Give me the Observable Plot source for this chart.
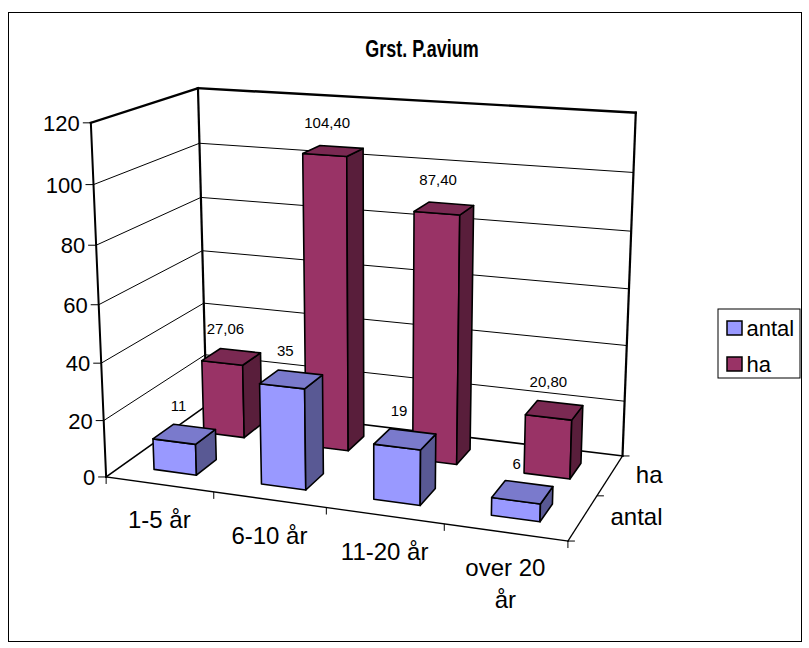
<!DOCTYPE html>
<html>
<head>
<meta charset="utf-8">
<script src="https://cdn.jsdelivr.net/npm/d3@7"></script>
<script src="https://cdn.jsdelivr.net/npm/@observablehq/plot@0.6"></script>
<style>
  html, body { margin: 0; padding: 0; background: #fff; }
  #chart svg { display: block; }
</style>
</head>
<body>
<div id="chart"></div>
<script>
// ---- data -------------------------------------------------------------
const categories = ["1-5 år", "6-10 år", "11-20 år", "over 20 år"];
const seriesNames = ["antal", "ha"];
const antal = [11, 35, 19, 6];
const ha = [27.06, 104.40, 87.40, 20.80];
const valueTicks = [0, 20, 40, 60, 80, 100, 120];
const chartTitle = "Grst. P.avium";

// ---- styling ----------------------------------------------------------
const palette = {antal: "#9999ff", ha: "#993366"};
const shade = {front: 1, top: 0.8, side: 0.58};
const font = "'Liberation Sans', Arial, Helvetica, sans-serif";

// ---- scales: data -> unit cube (u along categories, h up, w into depth) ----
const uScale = Plot.scale({x: {type: "band", domain: categories, range: [0, 1], padding: 0}});
const wScale = Plot.scale({fy: {type: "band", domain: seriesNames, range: [0, 1], padding: 0}});
const hScale = Plot.scale({y: {type: "linear", domain: [0, 120], range: [0, 1]}});
const barShare = 0.4;   // bar width / category band (gap width 150%)
const depthShare = 0.4; // bar depth / series band (gap depth 150%)

// ---- perspective: the unit cube's screen placement ---------------------
// [u, h, w, screenX, screenY] for the corners of the plot box and the
// ticks along its edges; a pinhole camera is solved from them.
const boxPlacement = [
  [0, 0, 0, 105, 477], [0, 1, 0, 91, 122],
  [0, 0, 1, 207, 404], [0, 1, 1, 197, 87],
  [1, 0, 1, 622, 456], [1, 1, 1, 636, 112],
  [1, 0, 0, 567, 540],
  [0, 100 / 120, 0, 93.5, 184.3], [0, 80 / 120, 0, 95.8, 244.7],
  [0, 60 / 120, 0, 98.2, 304.3], [0, 40 / 120, 0, 100.5, 362.7],
  [0, 20 / 120, 0, 102.7, 420],
  [0, 100 / 120, 1, 198.5, 143.3], [0, 80 / 120, 1, 200.3, 197.7],
  [1, 100 / 120, 1, 632.7, 172], [1, 80 / 120, 1, 630, 230.7],
  [0.25, 0, 0, 213.3, 491.7], [0.5, 0, 0, 326, 506.7],
  [1, 0, 0.5, 597, 495.5]
];

function solveLinear(A, b) {
  const n = b.length;
  const M = A.map((row, i) => [...row, b[i]]);
  for (let c = 0; c < n; c++) {
    let p = c;
    for (let r = c + 1; r < n; r++) if (Math.abs(M[r][c]) > Math.abs(M[p][c])) p = r;
    [M[c], M[p]] = [M[p], M[c]];
    for (let r = 0; r < n; r++) {
      if (r === c) continue;
      const f = M[r][c] / M[c][c];
      for (let k = c; k <= n; k++) M[r][k] -= f * M[c][k];
    }
  }
  return M.map((row, i) => row[n] / row[i]);
}

function fitCamera(anchors) {
  const AtA = Array.from({length: 11}, () => new Array(11).fill(0));
  const Atb = new Array(11).fill(0);
  const add = (row, t) => {
    for (let i = 0; i < 11; i++) {
      Atb[i] += row[i] * t;
      for (let j = 0; j < 11; j++) AtA[i][j] += row[i] * row[j];
    }
  };
  for (const [X, Y, Z, x, y] of anchors) {
    add([X, Y, Z, 1, 0, 0, 0, 0, -x * X, -x * Y, -x * Z], x);
    add([0, 0, 0, 0, X, Y, Z, 1, -y * X, -y * Y, -y * Z], y);
  }
  const p = solveLinear(AtA, Atb);
  return [[p[0], p[1], p[2], p[3]], [p[4], p[5], p[6], p[7]], [p[8], p[9], p[10], 1]];
}

const P = fitCamera(boxPlacement);
const project = (u, h, w) => {
  const q = P.map(r => r[0] * u + r[1] * h + r[2] * w + r[3]);
  return [q[0] / q[2], q[1] / q[2]];
};
// camera position in cube coordinates (for hidden-face removal)
const [Cu, Ch, Cw] = solveLinear(P.map(r => r.slice(0, 3)), P.map(r => -r[3]));

// ---- bars -------------------------------------------------------------
const valuesOf = {antal, ha};
const bars = seriesNames.flatMap(s => categories.map((c, i) => {
  const bw = uScale.bandwidth, bd = wScale.bandwidth;
  const u0 = uScale.apply(c) + bw * (1 - barShare) / 2, u1 = u0 + bw * barShare;
  const w0 = wScale.apply(s) + bd * (1 - depthShare) / 2, w1 = w0 + bd * depthShare;
  return {series: s, category: c, value: valuesOf[s][i], u0, u1, w0, w1, h1: hScale.apply(valuesOf[s][i])};
}));
// paint far bars first
bars.sort((a, b) => (b.w0 - a.w0) || (Math.abs(b.u0 - Cu) - Math.abs(a.u0 - Cu)));

const tint = (color, k) => {
  const c = d3.rgb(color);
  return d3.rgb(c.r * k, c.g * k, c.b * k).formatHex();
};

const faces = [];
bars.forEach((b, bi) => {
  const {u0, u1, w0, w1, h1} = b;
  const list = [];
  if (Cw < w0) list.push(["front", [[u0, 0, w0], [u1, 0, w0], [u1, h1, w0], [u0, h1, w0]]]);
  if (Cw > w1) list.push(["front", [[u0, 0, w1], [u1, 0, w1], [u1, h1, w1], [u0, h1, w1]]]);
  if (Cu < u0) list.push(["side", [[u0, 0, w0], [u0, 0, w1], [u0, h1, w1], [u0, h1, w0]]]);
  if (Cu > u1) list.push(["side", [[u1, 0, w0], [u1, 0, w1], [u1, h1, w1], [u1, h1, w0]]]);
  if (Ch > h1) list.push(["top", [[u0, h1, w0], [u1, h1, w0], [u1, h1, w1], [u0, h1, w1]]]);
  list.forEach(([kind, pts], fi) => {
    const fill = tint(palette[b.series], shade[kind]);
    pts.forEach(([u, h, w]) => {
      const [x, y] = project(u, h, w);
      faces.push({id: `${bi}-${fi}`, x, y, fill});
    });
  });
});

// ---- walls, floor, grid -----------------------------------------------
const gridValues = valueTicks.filter(v => v > 0 && v < 120);
const seg = (a, b, width) => {
  const [x1, y1] = project(...a), [x2, y2] = project(...b);
  return {x1, y1, x2, y2, width};
};
const gridLines = gridValues.flatMap(v => {
  const h = hScale.apply(v);
  return [seg([0, h, 0], [0, h, 1], 1), seg([0, h, 1], [1, h, 1], 1)];
});
const frameLines = [
  seg([0, 0, 0], [0, 1, 0], 2), seg([0, 1, 0], [0, 1, 1], 2.4),
  seg([0, 1, 1], [0, 0, 1], 2.2), seg([0, 1, 1], [1, 1, 1], 2.4),
  seg([1, 1, 1], [1, 0, 1], 2.2),
  seg([0, 0, 1], [1, 0, 1], 1.6), seg([0, 0, 0], [0, 0, 1], 1.6),
  seg([0, 0, 0], [1, 0, 0], 1.3), seg([1, 0, 0], [1, 0, 1], 1.3)
];

// ---- axes -------------------------------------------------------------
const valueAxis = valueTicks.map(v => {
  const [x, y] = project(0, hScale.apply(v), 0);
  return {v, x, y};
});
const catEdges = d3.range(categories.length + 1).map(i => {
  const [x, y] = project(i * uScale.bandwidth, 0, 0);
  return {x, y};
});
const catLabels = categories.map(c => {
  const [x, y] = project(uScale.apply(c) + uScale.bandwidth / 2, 0, 0);
  return {c, x, y};
});
const depthEdges = d3.range(seriesNames.length + 1).map(i => {
  const [x, y] = project(1, 0, i * wScale.bandwidth);
  return {x, y};
});
const depthRight = project(1, 0, 1)[0] + 40;
const depthLabels = seriesNames.map(s => {
  const [, y] = project(1, 0, wScale.apply(s) + wScale.bandwidth / 2);
  return {s, x: depthRight, y};
});

// ---- value labels -----------------------------------------------------
const commaLocale = d3.formatLocale({decimal: ",", thousands: ".", grouping: [3], currency: ["", ""]});
const labelFormat = {antal: d3.format("d"), ha: commaLocale.format(".2f")};
const valueLabels = bars.map(b => {
  const [x, y] = project((b.u0 + b.u1) / 2, b.h1, (b.w0 + b.w1) / 2);
  return {x, y, text: labelFormat[b.series](b.value)};
});

// ---- legend -----------------------------------------------------------
const legend = {x0: 718, y0: 309, x1: 800, y1: 378, swatch: 14, rowGap: 36, left: 727, top: 321};
const legendRows = seriesNames.map((s, i) => ({
  s, fill: palette[s],
  x1: legend.left, x2: legend.left + legend.swatch + 1,
  y1: legend.top + i * legend.rowGap, y2: legend.top + i * legend.rowGap + legend.swatch
}));

const titlePos = {x: 422, y: 50, squeeze: 0.78};

const chart = Plot.plot({
  width: 809,
  height: 648,
  marginTop: 12, marginLeft: 8, marginRight: 8, marginBottom: 7,
  x: {type: "identity", axis: null},
  y: {type: "identity", axis: null},
  color: {type: "identity"},
  style: {fontFamily: font, background: "#fff", color: "#000"},
  marks: [
    Plot.frame({stroke: "#000", strokeWidth: 1}),
    Plot.text([chartTitle], {x: titlePos.x, y: titlePos.y, text: d => d, fontSize: 23, fontWeight: "bold"}),
    // grid and box
    Plot.link(gridLines, {x1: "x1", y1: "y1", x2: "x2", y2: "y2", stroke: "#000", strokeWidth: 1}),
    Plot.link(frameLines, {x1: "x1", y1: "y1", x2: "x2", y2: "y2", stroke: "#000", strokeWidth: "width", strokeLinecap: "square"}),
    // value axis ticks + labels
    Plot.link(valueAxis, {x1: d => d.x - 8, x2: "x", y1: "y", y2: "y", stroke: "#000", strokeWidth: 1}),
    Plot.text(valueAxis, {x: d => d.x - 11, y: d => d.y + 1, text: d => String(d.v), textAnchor: "end", fontSize: 22}),
    // category axis ticks + labels
    Plot.link(catEdges, {x1: "x", x2: "x", y1: "y", y2: d => d.y + 7, stroke: "#000", strokeWidth: 1}),
    Plot.text(catLabels, {x: "x", y: "y", text: "c", dy: 22, lineAnchor: "top", lineWidth: 4.2, lineHeight: 1.3, fontSize: 24}),
    // depth axis ticks + labels
    Plot.link(depthEdges, {x1: "x", x2: d => d.x + 7, y1: "y", y2: "y", stroke: "#000", strokeWidth: 1}),
    Plot.text(depthLabels, {x: "x", y: "y", text: "s", textAnchor: "end", fontSize: 24}),
    // bars
    Plot.line(faces, {x: "x", y: "y", z: "id", fill: "fill", stroke: "#000", strokeWidth: 1.6, curve: "linear-closed", strokeLinejoin: "round"}),
    // value labels
    Plot.text(valueLabels, {x: "x", y: "y", text: "text", dx: -6, dy: -28, fontSize: 15}),
    // legend
    Plot.rect([legend], {x1: "x0", x2: "x1", y1: "y0", y2: "y1", fill: "#fff", stroke: "#000", strokeWidth: 1}),
    Plot.rect(legendRows, {x1: "x1", x2: "x2", y1: "y1", y2: "y2", fill: "fill", stroke: "#000", strokeWidth: 1.5}),
    Plot.text(legendRows, {x: d => d.x2 + 4, y: d => (d.y1 + d.y2) / 2, text: "s", textAnchor: "start", fontSize: 22})
  ]
});

// the title is set in a narrow cut
d3.select(chart).selectAll("text")
  .filter(function() { return this.textContent === chartTitle; })
  .each(function() {
    d3.select(this.parentNode).attr("transform",
      `translate(${titlePos.x},${titlePos.y}) scale(${titlePos.squeeze},1) translate(${-titlePos.x},${-titlePos.y})`);
  });

document.getElementById("chart").append(chart);
</script>
</body>
</html>
